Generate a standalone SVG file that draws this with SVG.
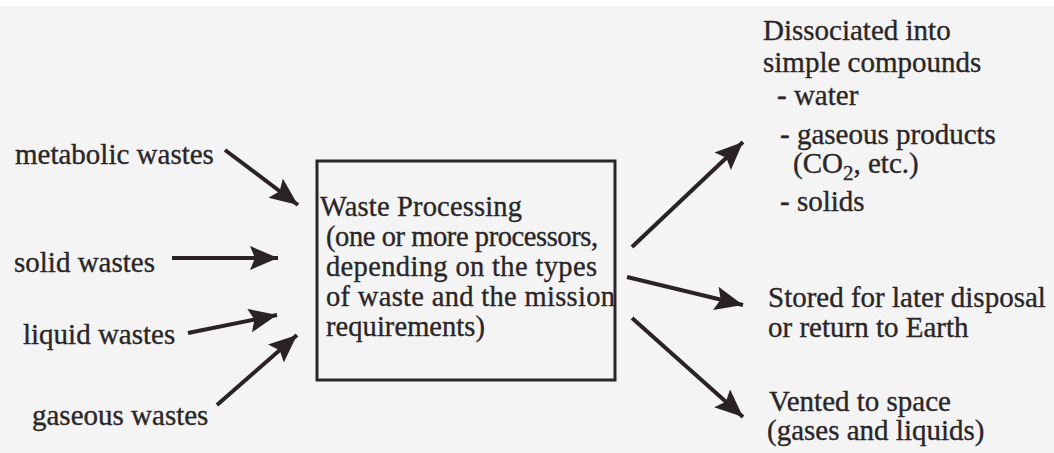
<svg xmlns="http://www.w3.org/2000/svg" width="1054" height="453" viewBox="0 0 1054 453">
  <style>
    .lbl { font-family: "Liberation Serif", "Times New Roman", serif; font-size: 29px; fill: #2a2628; stroke: #2a2628; stroke-width: 0.35; }
    .box-text { font-family: "Liberation Serif", "Times New Roman", serif; font-size: 28.5px; fill: #2a2628; stroke: #2a2628; stroke-width: 0.35; }
    .box { fill: none; stroke: #2a2628; stroke-width: 3; }
    .arrow { stroke: #2b2226; stroke-width: 4; fill: none; marker-end: url(#head); }
  </style>
  <defs>
    <marker id="head" markerUnits="userSpaceOnUse" markerWidth="32" markerHeight="26" refX="28" refY="12" orient="auto">
      <path d="M0,0 L28,12 L0,24 L5,12 Z" fill="#2b2226"/>
    </marker>
  </defs>

  <!-- paper background -->
  <rect x="0" y="0" width="1054" height="453" fill="#f4f4f4"/>
  <rect x="0" y="0" width="1054" height="6" fill="#ffffff"/>

  <!-- inputs -->
  <g id="metabolic-wastes"><text class="lbl" x="15" y="164">metabolic wastes</text></g>
  <g id="solid-wastes"><text class="lbl" x="14" y="272">solid wastes</text></g>
  <g id="liquid-wastes"><text class="lbl" x="23" y="344">liquid wastes</text></g>
  <g id="gaseous-wastes"><text class="lbl" x="32" y="425">gaseous wastes</text></g>

  <!-- central processor -->
  <g id="waste-processing">
    <rect class="box" x="317" y="161" width="298" height="219"/>
    <text class="box-text" x="320" y="216" textLength="202">Waste Processing</text>
    <text class="box-text" x="326" y="246" textLength="272">(one or more processors,</text>
    <text class="box-text" x="326" y="276" textLength="271">depending on the types</text>
    <text class="box-text" x="326" y="306" textLength="289">of waste and the mission</text>
    <text class="box-text" x="326" y="336" textLength="159">requirements)</text>
  </g>

  <!-- outputs -->
  <g id="dissociated">
    <text class="lbl" x="763" y="40">Dissociated into</text>
    <text class="lbl" x="763" y="72">simple compounds</text>
    <text class="lbl" x="777" y="105">- water</text>
    <text class="lbl" x="780" y="144">- gaseous products</text>
    <text class="lbl" x="793" y="173">(CO<tspan font-size="21" dy="7">2</tspan><tspan dy="-7">, etc.)</tspan></text>
    <text class="lbl" x="780" y="211">- solids</text>
  </g>
  <g id="stored">
    <text class="lbl" x="768" y="307">Stored for later disposal</text>
    <text class="lbl" x="768" y="337">or return to Earth</text>
  </g>
  <g id="vented">
    <text class="lbl" x="769" y="411">Vented to space</text>
    <text class="lbl" x="767" y="440">(gases and liquids)</text>
  </g>

  <!-- connectors -->
  <g id="connectors">
    <line class="arrow" x1="225" y1="150" x2="298" y2="205"/>
    <line class="arrow" x1="172" y1="258" x2="278" y2="258"/>
    <line class="arrow" x1="188" y1="333" x2="277" y2="315"/>
    <line class="arrow" x1="217" y1="405" x2="297" y2="335"/>
    <line class="arrow" x1="632" y1="247" x2="743" y2="142"/>
    <line class="arrow" x1="627" y1="277" x2="743" y2="305"/>
    <line class="arrow" x1="632" y1="318" x2="743" y2="417"/>
  </g>
</svg>
